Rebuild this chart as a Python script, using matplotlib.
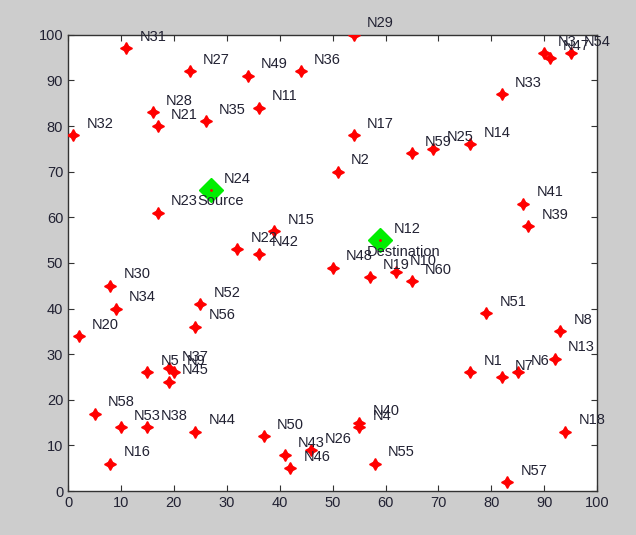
import matplotlib
matplotlib.use('Agg')
import matplotlib.pyplot as plt
import numpy as np

plt.rcParams['font.family'] = ['Liberation Sans', 'DejaVu Sans']

# node positions
node_names = ['N%d' % i for i in range(1, 61)]
node_x = [76, 51, 90, 55, 15, 85, 82, 93, 20, 62,
          36, 59, 92, 76, 39, 8, 54, 94, 57, 2,
          17, 32, 17, 27, 69, 46, 23, 16, 54, 8,
          11, 1, 82, 9, 26, 44, 19, 15, 87, 55,
          86, 36, 41, 24, 19, 42, 91, 50, 34, 37,
          79, 25, 10, 95, 58, 24, 83, 5, 65, 65]
node_y = [26, 70, 96, 14, 26, 26, 25, 35, 26, 48,
          84, 55, 29, 76, 57, 6, 78, 13, 47, 34,
          80, 53, 61, 66, 75, 9, 92, 83, 100, 45,
          97, 78, 87, 40, 81, 92, 27, 14, 58, 15,
          63, 52, 8, 13, 24, 5, 95, 49, 91, 12,
          39, 41, 14, 96, 6, 36, 2, 17, 74, 46]

source_idx = 23   # N24
dest_idx = 11     # N12

fig = plt.figure(figsize=(6.36, 5.35), dpi=100, facecolor='#cdcdcd')
ax = fig.add_axes([0.107, 0.082, 0.832, 0.853])

ax.plot(node_x, node_y, linestyle='none', marker=(4, 1, 0), markersize=8.5,
        color='red', zorder=3)

for name, x, y in zip(node_names, node_x, node_y):
    ax.text(x + 2.5, y + 2.5, name, fontsize=10.5, color='#222233',
            va='center', ha='left', clip_on=False, zorder=5)

sx, sy = node_x[source_idx], node_y[source_idx]
dx, dy = node_x[dest_idx], node_y[dest_idx]
ax.plot([sx, dx], [sy, dy], linestyle='none', marker='D', markersize=12,
        color='#00ee00', zorder=4)
ax.plot([sx, dx], [sy, dy], linestyle='none', marker='.', markersize=2,
        color='red', zorder=4)
ax.text(sx - 2.5, sy - 2.5, 'Source', fontsize=10.5, color='#222233',
        va='center', ha='left', zorder=5)
ax.text(dx - 2.5, dy - 2.5, 'Destination', fontsize=10.5, color='#222233',
        va='center', ha='left', zorder=5)

ax.set_xlim(0, 100)
ax.set_ylim(0, 100)
ax.set_xticks(np.arange(0, 101, 10))
ax.set_yticks(np.arange(0, 101, 10))
ax.tick_params(direction='in', top=True, right=True, length=4,
               labelsize=10.5, labelcolor='#222233', color='#333333')
for sp in ax.spines.values():
    sp.set_color('#333333')
    sp.set_linewidth(1.0)

fig.savefig('out.png', dpi=100, facecolor=fig.get_facecolor())
